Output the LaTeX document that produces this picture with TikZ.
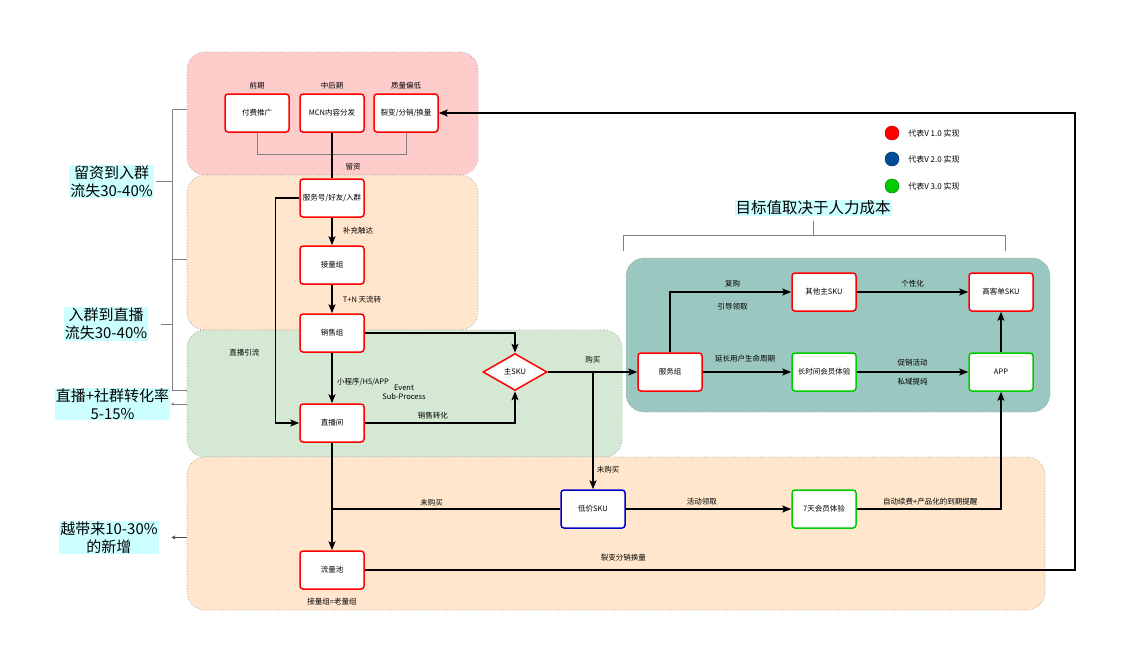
\documentclass[tikz,border=0pt]{standalone}
\usepackage{fontspec}
\setmainfont{Noto Sans CJK SC}
\usetikzlibrary{arrows.meta,shapes,automata,positioning,calc}

\definecolor{pinkbg}{HTML}{FFCCCC}
\definecolor{orangebg}{HTML}{FFE6CC}
\definecolor{greenbg}{HTML}{D5E8D4}
\definecolor{tealbg}{HTML}{9AC7BF}
\definecolor{notebg}{HTML}{CCFFFF}
\definecolor{redln}{HTML}{FF0000}
\definecolor{greenln}{HTML}{00CC00}
\definecolor{blueln}{HTML}{0000CC}
\definecolor{legblue}{HTML}{004C99}

\begin{document}
\begin{tikzpicture}[x=1pt,y=1pt,->,>={Stealth[length=9pt,width=7pt,inset=2pt]},
line width=1.5pt, font=\fontsize{7.5}{9}\selectfont]
\tikzstyle{every state}=[rectangle,rounded corners=3pt,
 minimum width=64pt, minimum height=38pt, inner sep=1pt, fill=white, draw=redln, text=black, line width=1.5pt]
\tikzstyle{grpbox}=[rectangle, rounded corners=18pt, draw=black!35, dotted, line width=0.8pt, inner sep=0pt]
\tikzstyle{notebox}=[fill=notebg, font=\fontsize{15}{18}\selectfont, align=center, inner sep=1pt]
\tikzstyle{gline}=[-, draw=gray, line width=1pt]

\useasboundingbox (0,0) rectangle (1133,-664);

%groups
\node[grpbox, fill=pinkbg, minimum width=291pt, minimum height=123pt] (Gpink) at (332.5,-113.5) {};
\node[grpbox, fill=orangebg, minimum width=291pt, minimum height=155pt] (Gor1) at (332.5,-252.5) {};
\node[grpbox, fill=greenbg, minimum width=435pt, minimum height=127pt] (Ggreen) at (404.5,-393.5) {};
\node[grpbox, fill=orangebg, minimum width=858pt, minimum height=153pt] (Gor2) at (616,-533.5) {};
\node[grpbox, fill=tealbg, minimum width=424pt, minimum height=154pt] (Gteal) at (838,-335) {};

%notes
\node[notebox] (L1) at (111.5,-181.5) {留资到入群\\流失30-40\%};
\node[notebox] (L2) at (106,-324) {入群到直播\\流失30-40\%};
\node[notebox] (L3) at (112.5,-404) {直播+社群转化率\\5-15\%};
\node[notebox] (L4) at (109,-537.5) {越带来10-30\%\\的新增};
\node[notebox, font=\fontsize{15.5}{18}\selectfont] (Goal) at (813,-208) {目标值取决于人力成本};

%brackets
\coordinate (Bt) at (172,-109);
\coordinate (Bm) at (172,-259);
\coordinate (Bb) at (172,-390);
\draw[gline] (Gpink.west |- Bt) -- (Bt) -- (Bb) -- (Ggreen.west |- Bb);
\draw[gline] (Bm) -- (Gor1.west |- Bm);
\draw[gline] (L1.east) ++(2,0) -- (L1.east -| Bt);
\draw[gline] (L2.east) ++(12,0) -- (L2.east -| Bt);
\draw[gline, {Stealth[length=3pt,width=3pt]}-] (L3.east) -- (Ggreen.west |- L3.east);
\draw[gline, draw=black!70, -{Stealth[length=4pt,width=4pt]}, shorten >=12pt] (Gor2.west |- L4.east) -- (L4.east);
\draw[gline] (Goal.south) ++(0,-4) -- ++(0,-15) coordinate (Gm);
\draw[gline] ($(Gm)+(-190,-15)$) -- ++(0,15) -- ++(382,0) -- ++(0,-15);

%legend
\node[circle, fill=redln, draw=red!70!black, line width=0.5pt, minimum size=14pt, inner sep=0pt] (V1) at (892,-133) {};
\node[circle, fill=legblue, draw=legblue!70!black, line width=0.5pt, minimum size=14pt, inner sep=0pt] (V2) at (892,-159) {};
\node[circle, fill=greenln, draw=green!50!black, line width=0.5pt, minimum size=14pt, inner sep=0pt] (V3) at (892,-186) {};
\node[right=5pt of V1, font=\fontsize{8}{9}\selectfont] {代表V 1.0 实现};
\node[right=5pt of V2, font=\fontsize{8}{9}\selectfont] {代表V 2.0 实现};
\node[right=5pt of V3, font=\fontsize{8}{9}\selectfont] {代表V 3.0 实现};

%left flow
\node[state, label={above:中后期}] (MCN) at (332,-113) {MCN内容分发};
\node[state, label={above:前期}] (Paid) [node distance=75pt, left of=MCN] {付费推广};
\node[state, label={above:质量偏低}] (Fission) [node distance=74pt, right of=MCN] {裂变/分销/换量};
\node[state] (Svc) at (332,-198) {服务号/好友/入群};
\node[state] (Recv) [node distance=67pt, below of=Svc] {接量组};
\node[state] (Sales) [node distance=68pt, below of=Recv] {销售组};
\node[state] (Live) [node distance=90pt, below of=Sales] {直播间};
\node[state, label={[label distance=4pt]below:接量组=老量组}] (Pool) [node distance=147pt, below of=Live] {流量池};
\node[state, diamond, aspect=1.73, sharp corners, minimum width=64pt, minimum height=37pt, inner sep=0pt] (SKU) at (515,-372) {主SKU};
\node[state, draw=blueln] (Low) at (593,-509) {低价SKU};
\node[state, draw=greenln] (Seven) [node distance=231pt, right of=Low] {7天会员体验};

%right flow
\node[state] (Grp) at (670,-372) {服务组};
\node[state, draw=greenln] (Long) [node distance=154pt, right of=Grp] {长时间会员体验};
\node[state, draw=greenln] (App) [node distance=177pt, right of=Long] {APP};
\node[state] (Other) [node distance=80pt, above of=Long] {其他主SKU};
\node[state] (High) [node distance=80pt, above of=App] {高客单SKU};

\draw[gline] (Paid.south) -- ++(0,-22) -| (Fission.south);
\draw[-] (MCN) -- node[pos=.74, xshift=21pt]{留资} (Svc);
\draw (Svc) -- node[pos=.48, xshift=26pt]{补充触达} (Recv);
\draw (Recv) -- node[pos=.52, xshift=30pt]{T+N 天流转} (Sales);
\draw (Sales) -- node[pos=.58, xshift=31pt]{小程序/H5/APP}
  node[pos=.78, xshift=72pt, align=center]{Event\\Sub-Process} (Live);
\draw (Live) -- (Pool);
\draw (Svc.west) -- ++(-24,0) |- node[pos=.344, xshift=-31pt]{直播引流} (Live.west);
\draw (Sales.east) -| (SKU.north);
\draw (Live.east) -| node[pos=.227, yshift=7pt]{销售转化} (SKU.south);
\draw (SKU.east) -- node[pos=.505, yshift=12pt]{购买} (Grp.west);

\coordinate (Br) at (Low.north |- SKU.east);
\draw (Br) -- node[pos=.83, xshift=15pt]{未购买} (Low.north);
\coordinate (Jn) at (Live.south |- Low.west);
\draw[-] (Low.west) -- node[pos=.563, yshift=6pt]{未购买} (Jn);
\draw (Low.east) -- node[pos=.46, yshift=7pt]{活动领取} (Seven.west);
\draw (Seven.east) -| node[pos=.255, yshift=7pt]{自动续费+产品化的到期提醒} (App.south);
\coordinate (Lp) at (1075,-570);
\draw (Pool.east) -- node[pos=.364, yshift=12pt]{裂变分销换量} (Lp) |- (Fission.east);

\draw (Grp.north) |- node[pos=.758, yshift=8pt]{复购} node[pos=.758, yshift=-15pt]{引导领取} (Other.west);
\draw (Other) -- node[yshift=8pt]{个性化} (High);
\draw (Grp) -- node[pos=.48, yshift=13pt]{延长用户生命周期} (Long);
\draw (Long) -- node[yshift=9pt]{促销活动} node[yshift=-10pt]{私域提纯} (App);
\draw (App) -- (High);

\end{tikzpicture}
\end{document}
